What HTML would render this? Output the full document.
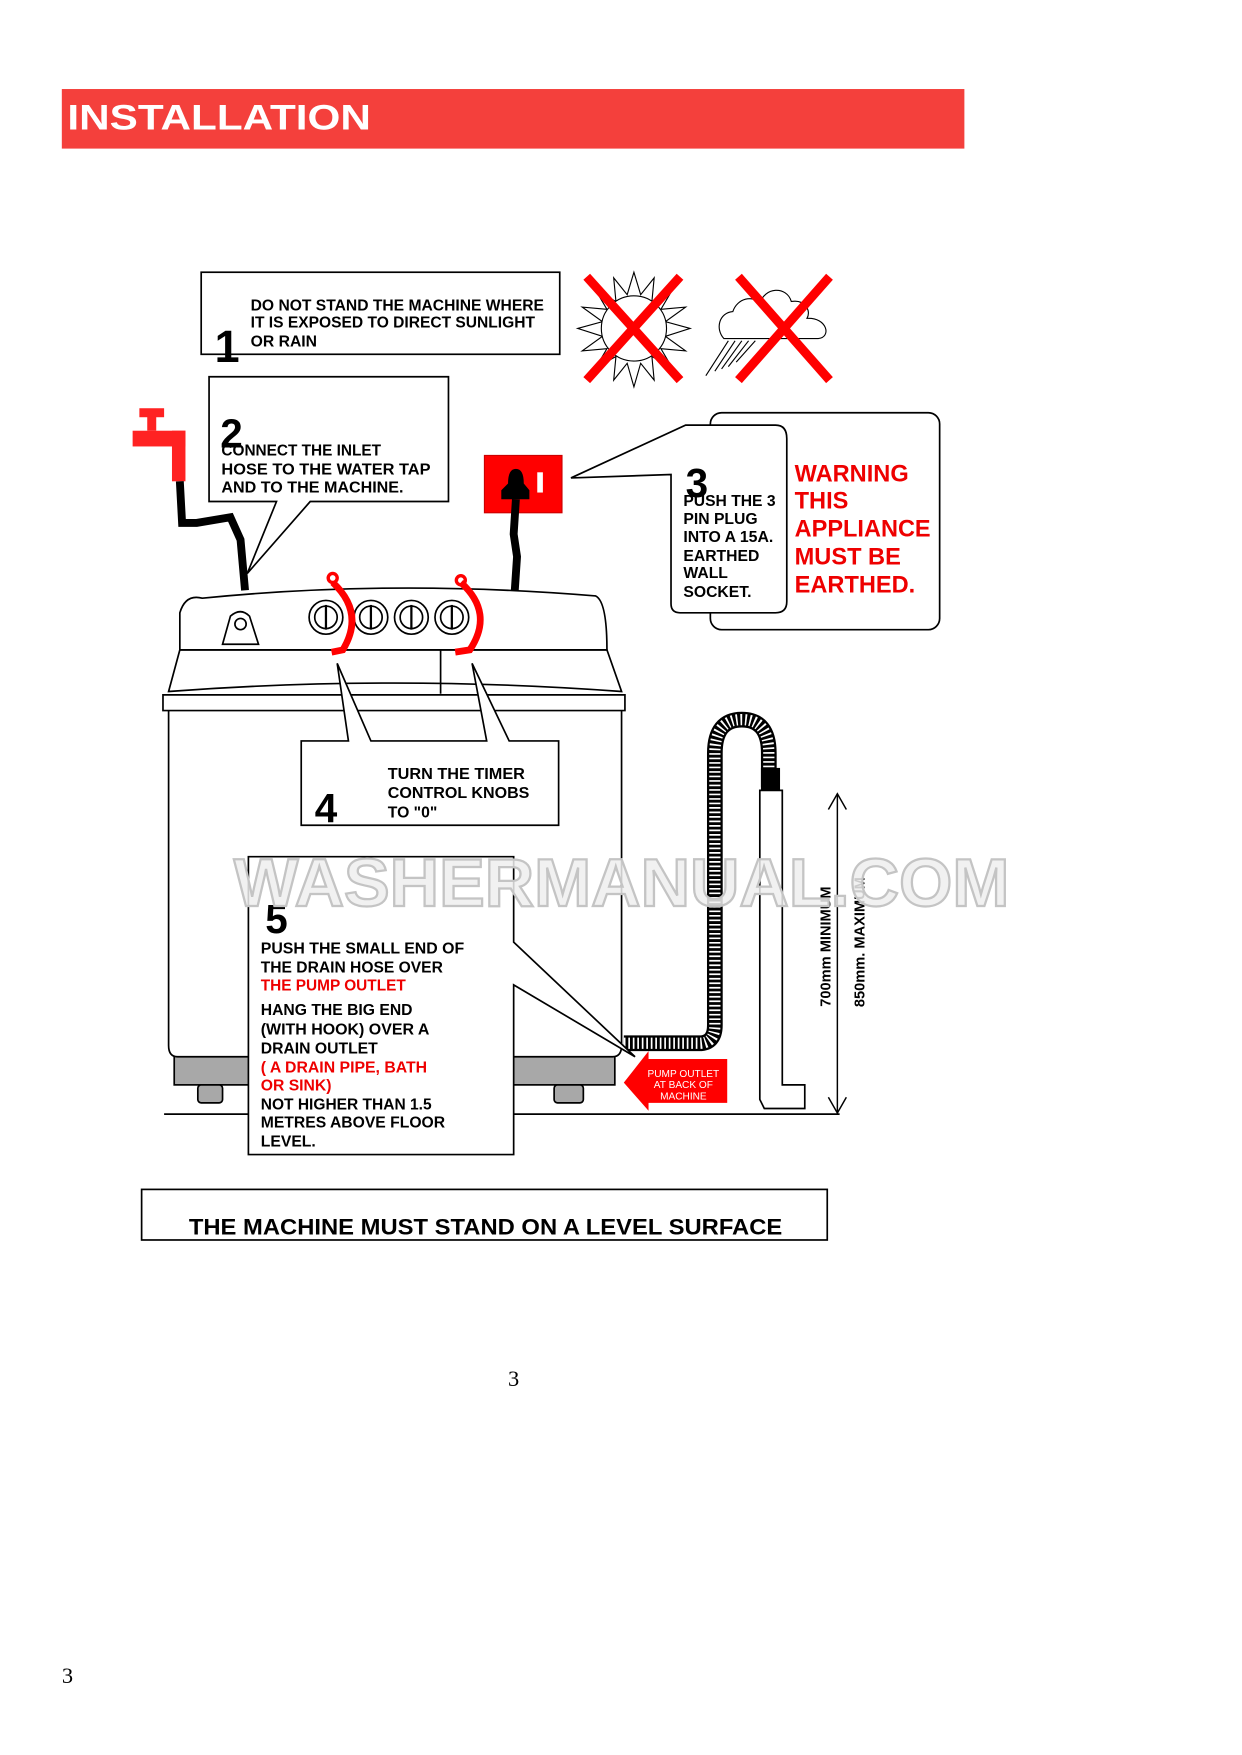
<!DOCTYPE html>
<html><head><meta charset="utf-8"><style>
html,body{margin:0;padding:0;background:#fff;}
svg{display:block;}
text{font-family:"Liberation Sans",Arial,sans-serif;}
</style></head><body>
<svg width="1242" height="1755" viewBox="0 0 1105 1561" xmlns="http://www.w3.org/2000/svg">
<rect width="1105" height="1561" fill="#fff"/>
<!-- header -->
<rect x="55" y="79" width="803" height="53" fill="#f4403c"/>
<text x="60" y="115" font-size="31" font-weight="bold" fill="#fff" textLength="270" lengthAdjust="spacingAndGlyphs">INSTALLATION</text>

<!-- box 1 -->
<rect x="179" y="242" width="319" height="73" fill="#fff" stroke="#000" stroke-width="1.5"/>
<g font-size="14" font-weight="bold">
<text x="223" y="276" textLength="261" lengthAdjust="spacingAndGlyphs">DO NOT STAND THE MACHINE WHERE</text>
<text x="223" y="291" textLength="253" lengthAdjust="spacingAndGlyphs">IT IS EXPOSED TO DIRECT SUNLIGHT</text>
<text x="223" y="308">OR RAIN</text>
</g>
<text x="191" y="322" font-size="40" font-weight="bold">1</text>

<!-- sun -->
<g stroke="#000" fill="#fff" stroke-width="1">
<polygon points="564,242 570,262 582,247 580,268 598,258 588,275 610,273 592,286 614,292 592,299 610,312 588,310 598,327 580,317 582,338 570,323 564,344 558,323 546,338 548,317 530,327 540,310 518,312 536,299 514,292 536,286 518,273 540,275 530,258 548,268 546,247 558,262"/>
<circle cx="564" cy="292" r="29"/>
</g>
<g stroke="#f00" stroke-width="8"><line x1="522" y1="246" x2="605" y2="338"/><line x1="605" y1="246" x2="522" y2="338"/></g>
<!-- cloud -->
<path d="M644,301 C636,292 640,278 652,277 C656,265 670,262 676,270 C680,255 700,254 704,268 C716,266 722,276 718,283 C736,282 740,300 728,301 Z" fill="#fff" stroke="#000" stroke-width="1"/>
<g stroke="#000" stroke-width="1"><line x1="648" y1="303" x2="628" y2="334"/><line x1="654" y1="303" x2="636" y2="330"/><line x1="660" y1="303" x2="642" y2="328"/><line x1="666" y1="303" x2="648" y2="326"/><line x1="672" y1="303" x2="655" y2="322"/></g>
<g stroke="#f00" stroke-width="8"><line x1="657" y1="246" x2="738" y2="338"/><line x1="738" y1="246" x2="657" y2="338"/></g>

<!-- tap -->
<g fill="#f22">
<rect x="124" y="363" width="22" height="8"/><rect x="131" y="368" width="8" height="15"/>
<rect x="118" y="383" width="47" height="14"/><rect x="153" y="383" width="12" height="45"/>
</g>
<path d="M160,428 L162,465 L175,465 L205,460 L214,480 L218,525" fill="none" stroke="#000" stroke-width="7"/>

<!-- box 2 -->
<path d="M186,335 H399 V446 H276 L220,510 L246,446 H186 Z" fill="#fff" stroke="#000" stroke-width="1.5"/>
<text x="196" y="398" font-size="36" font-weight="bold">2</text>
<g font-size="14" font-weight="bold">
<text x="197" y="405" textLength="142" lengthAdjust="spacingAndGlyphs">CONNECT THE INLET</text>
<text x="197" y="422" textLength="186" lengthAdjust="spacingAndGlyphs">HOSE TO  THE WATER TAP</text>
<text x="197" y="438" textLength="162" lengthAdjust="spacingAndGlyphs">AND TO  THE MACHINE.</text>
</g>

<!-- socket -->
<rect x="431" y="405" width="69" height="51" fill="#f00" stroke="#c00"/>
<path d="M452,430 Q452,417 459,417 Q466,417 466,430 L471,436 L471,444 L446,444 L446,436 Z" fill="#000"/>
<rect x="478" y="420" width="5" height="18" fill="#fff"/>
<path d="M459,444 L457,475 L460,495 L458,525" fill="none" stroke="#000" stroke-width="7"/>

<!-- callout 3 -->
<rect x="632" y="367" width="204" height="193" rx="10" fill="#fff" stroke="#000" stroke-width="1.5"/>
<path d="M610,378 H690 Q700,378 700,390 V535 Q700,545 690,545 H605 Q597,545 597,537 V422 L508,425 L610,378 Z" fill="#fff" stroke="#000" stroke-width="1.5"/>
<text x="610" y="442" font-size="36" font-weight="bold">3</text>
<g font-size="14" font-weight="bold">
<text x="608" y="450" textLength="82" lengthAdjust="spacingAndGlyphs">PUSH THE 3</text>
<text x="608" y="466">PIN PLUG</text>
<text x="608" y="482" textLength="80" lengthAdjust="spacingAndGlyphs">INTO A 15A.</text>
<text x="608" y="499">EARTHED</text>
<text x="608" y="514">WALL</text>
<text x="608" y="531">SOCKET.</text>
</g>
<g font-size="21" font-weight="bold" fill="#e00">
<text x="707" y="428">WARNING</text>
<text x="707" y="452">THIS</text>
<text x="707" y="477" textLength="121" lengthAdjust="spacingAndGlyphs">APPLIANCE</text>
<text x="707" y="502">MUST BE</text>
<text x="707" y="527">EARTHED.</text>
</g>

<!-- machine -->
<g fill="#fff" stroke="#000" stroke-width="1.5">
<rect x="155" y="935" width="392" height="30" fill="#a8a8a8"/>
<rect x="176" y="965" width="22" height="16" rx="3" fill="#a8a8a8"/>
<rect x="493" y="965" width="26" height="16" rx="3" fill="#a8a8a8"/>
<path d="M150,630 H553 V930 Q553,940 545,940 H158 Q150,940 150,930 Z"/>
<path d="M145,618 H556 V632 H145 Z"/>
<path d="M160,578 H540 L553,615 Q350,600 150,615 Z"/>
<path d="M160,578 V545 Q165,528 180,532 Q350,515 530,530 Q540,535 540,578 Z"/>
<line x1="392" y1="578" x2="392" y2="617"/>
<path d="M198,573 L205,548 Q214,540 222,548 L230,573 Z"/>
<circle cx="214" cy="555" r="5"/>
</g>
<g fill="#fff" stroke="#000" stroke-width="1.5">
<circle cx="290" cy="549" r="15"/><circle cx="290" cy="549" r="10"/>
<circle cx="330" cy="549" r="15"/><circle cx="330" cy="549" r="10"/>
<circle cx="366" cy="549" r="15"/><circle cx="366" cy="549" r="10"/>
<circle cx="402" cy="549" r="15"/><circle cx="402" cy="549" r="10"/>
</g>
<g stroke="#000" stroke-width="2"><line x1="290" y1="538" x2="290" y2="560"/><line x1="330" y1="538" x2="330" y2="560"/><line x1="366" y1="538" x2="366" y2="560"/><line x1="402" y1="538" x2="402" y2="560"/></g>
<g fill="none" stroke="#f00" stroke-width="6">
<path d="M296,518 Q325,545 305,578 L295,580"/>
<path d="M410,518 Q440,545 418,578 L405,580"/>
</g>
<circle cx="296" cy="514" r="4" fill="none" stroke="#f00" stroke-width="3"/>
<circle cx="410" cy="516" r="4" fill="none" stroke="#f00" stroke-width="3"/>

<!-- box 4 -->
<path d="M268,659 H310 L300,590 L330,659 H433 L420,590 L453,659 H497 V734 H268 Z" fill="#fff" stroke="#000" stroke-width="1.5"/>
<text x="280" y="731" font-size="36" font-weight="bold">4</text>
<g font-size="14" font-weight="bold">
<text x="345" y="693" textLength="122" lengthAdjust="spacingAndGlyphs">TURN  THE TIMER</text>
<text x="345" y="710" textLength="126" lengthAdjust="spacingAndGlyphs">CONTROL KNOBS</text>
<text x="345" y="727">TO "0"</text>
</g>

<!-- floor -->
<line x1="146" y1="991" x2="747" y2="991" stroke="#000" stroke-width="1.5"/>

<!-- drain hose -->
<path d="M555,928 H622 Q636,928 636,912 V670 Q636,640 660,640 Q684,640 684,670 V700" fill="none" stroke="#000" stroke-width="14"/>
<path d="M555,928 H622 Q636,928 636,912 V670 Q636,640 660,640 Q684,640 684,670 V700" fill="none" stroke="#fff" stroke-width="10" stroke-dasharray="1.5 2.5"/>
<rect x="677" y="683" width="17" height="20" fill="#000"/>
<path d="M676,703 H696 V965 H716 V986 H680 L676,978 Z" fill="#fff" stroke="#000" stroke-width="1.5"/>

<!-- box 5 -->
<path d="M221,762 H457 V838 L565,940 L457,876 V1027 H221 Z" fill="#fff" stroke="#000" stroke-width="1.5"/>
<text x="236" y="830" font-size="36" font-weight="bold">5</text>
<g font-size="14" font-weight="bold">
<text x="232" y="848" textLength="181" lengthAdjust="spacingAndGlyphs">PUSH THE SMALL END OF</text>
<text x="232" y="865" textLength="162" lengthAdjust="spacingAndGlyphs">THE DRAIN HOSE OVER</text>
<text x="232" y="881" fill="#e00" textLength="129" lengthAdjust="spacingAndGlyphs">THE PUMP OUTLET</text>
<text x="232" y="903" textLength="135" lengthAdjust="spacingAndGlyphs">HANG THE BIG END</text>
<text x="232" y="920" textLength="150" lengthAdjust="spacingAndGlyphs">(WITH HOOK) OVER A</text>
<text x="232" y="937">DRAIN OUTLET</text>
<text x="232" y="954" fill="#e00" textLength="148" lengthAdjust="spacingAndGlyphs">( A DRAIN PIPE, BATH</text>
<text x="232" y="970" fill="#e00">OR SINK)</text>
<text x="232" y="987" textLength="152" lengthAdjust="spacingAndGlyphs">NOT HIGHER THAN 1.5</text>
<text x="232" y="1003" textLength="164" lengthAdjust="spacingAndGlyphs">METRES ABOVE FLOOR</text>
<text x="232" y="1020">LEVEL.</text>
</g>

<!-- pump outlet arrow -->
<path d="M555,963 L577,935 V942 H647 V981 H577 V988 Z" fill="#f00"/>
<g font-size="9" fill="#fff" text-anchor="middle">
<text x="608" y="958">PUMP OUTLET</text>
<text x="608" y="968">AT BACK OF</text>
<text x="608" y="978">MACHINE</text>
</g>

<!-- dimension -->
<g stroke="#000" stroke-width="1.3" fill="none">
<line x1="745" y1="706" x2="745" y2="990"/>
<polyline points="737,720 745,706 753,720"/>
<polyline points="737,976 745,990 753,976"/>
</g>
<text transform="translate(739,842) rotate(-90)" font-size="13" font-weight="bold" text-anchor="middle">700mm  MINIMUM</text>
<text transform="translate(769,838) rotate(-90)" font-size="13" font-weight="bold" text-anchor="middle">850mm.  MAXIMUM</text>

<!-- bottom box -->
<rect x="126" y="1058" width="610" height="45" fill="#fff" stroke="#000" stroke-width="1.5"/>
<text x="168" y="1098" font-size="20" font-weight="bold" textLength="528" lengthAdjust="spacingAndGlyphs">THE MACHINE MUST STAND ON A LEVEL SURFACE</text>

<text x="457" y="1233" font-size="20" text-anchor="middle" style="font-family:'Liberation Serif',serif">3</text>
<text x="60" y="1497" font-size="20" text-anchor="middle" style="font-family:'Liberation Serif',serif">3</text>

<!-- watermark (on top) -->
<text x="553" y="806" font-size="60" font-weight="bold" fill="#efefef" fill-opacity="0.85" stroke="#c4c4c4" stroke-width="2" text-anchor="middle" textLength="690" lengthAdjust="spacingAndGlyphs">WASHERMANUAL.COM</text>
</svg>
</body></html>
